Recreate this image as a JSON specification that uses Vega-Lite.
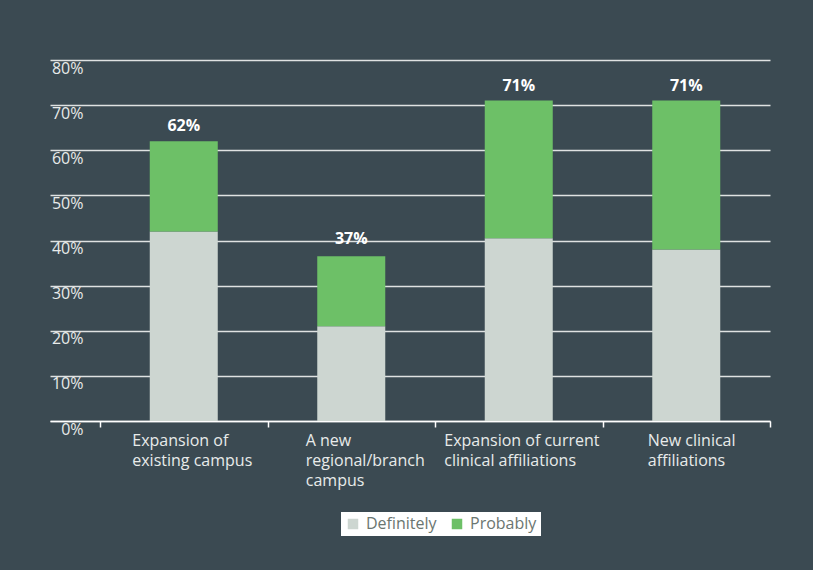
{
  "$schema": "https://vega.github.io/schema/vega-lite/v6.json",
  "width": 720,
  "height": 361,
  "autosize": {"type": "none"},
  "padding": {"left": 50, "top": 60, "right": 43, "bottom": 149},
  "background": "#3b4a52",
  "config": {
    "view": {"stroke": null},
    "font": "Open Sans"
  },
  "data": {
    "values": [
      {"category": "Expansion of existing campus", "Definitely": 42, "Probably": 20, "Total": 62, "TotalLabel": "62%"},
      {"category": "A new regional/branch campus", "Definitely": 21, "Probably": 15.5, "Total": 37, "TotalLabel": "37%"},
      {"category": "Expansion of current clinical affiliations", "Definitely": 40.5, "Probably": 30.5, "Total": 71, "TotalLabel": "71%"},
      {"category": "New clinical affiliations", "Definitely": 38, "Probably": 33, "Total": 71, "TotalLabel": "71%"}
    ]
  },
  "encoding": {
    "x": {
      "field": "category",
      "type": "nominal",
      "sort": null,
      "scale": {"paddingInner": 0, "paddingOuter": 0.1493, "align": 1},
      "axis": {
        "title": null,
        "orient": "bottom",
        "domainColor": "#ffffff",
        "domainWidth": 1.5,
        "ticks": true,
        "tickColor": "#ffffff",
        "tickWidth": 1.5,
        "tickSize": 6,
        "tickBand": "extent",
        "labelAngle": 0,
        "labelColor": "#e8ebea",
        "labelFont": "Open Sans",
        "labelFontSize": 16,
        "labelLineHeight": 20,
        "labelPadding": 5,
        "labelBaseline": "top",
        "labelAlign": "left",
        "labelOffset": {
          "condition": [
            {"test": "datum.value == 'Expansion of existing campus'", "value": -52},
            {"test": "datum.value == 'A new regional/branch campus'", "value": -46},
            {"test": "datum.value == 'Expansion of current clinical affiliations'", "value": -75}
          ],
          "value": -39
        },
        "labelExpr": "datum.value == 'Expansion of existing campus' ? ['Expansion of', 'existing campus'] : datum.value == 'A new regional/branch campus' ? ['A new', 'regional/branch', 'campus'] : datum.value == 'Expansion of current clinical affiliations' ? ['Expansion of current', 'clinical affiliations'] : datum.value == 'New clinical affiliations' ? ['New clinical', 'affiliations'] : ''"
      }
    }
  },
  "layer": [
    {
      "transform": [{"fold": ["Definitely", "Probably"], "as": ["answer", "value"]}],
      "mark": {"type": "bar", "width": {"band": 0.406}},
      "encoding": {
        "y": {
          "field": "value",
          "type": "quantitative",
          "stack": "zero",
          "scale": {"domain": [0, 80], "nice": false},
          "axis": {
            "title": null,
            "values": [0, 10, 20, 30, 40, 50, 60, 70, 80],
            "domain": false,
            "ticks": false,
            "tickSize": 0,
            "grid": true,
            "gridColor": "#dfe2e2",
            "gridWidth": 1.5,
            "labelAlign": "right",
            "labelBaseline": "top",
            "labelPadding": -33,
            "labelDy": 4,
            "labelColor": "#e8ebea",
            "labelFont": "Open Sans",
            "labelFontSize": 16,
            "labelExpr": "datum.value + '%'"
          }
        },
        "order": {"field": "answer", "sort": "ascending"},
        "color": {
          "field": "answer",
          "type": "nominal",
          "scale": {"domain": ["Definitely", "Probably"], "range": ["#cdd6d1", "#6dc067"]},
          "legend": {
            "title": null,
            "orient": "none",
            "direction": "horizontal",
            "legendX": 291,
            "legendY": 452,
            "fillColor": "#ffffff",
            "padding": 4,
            "symbolType": "square",
            "symbolSize": 110,
            "symbolStrokeWidth": 0,
            "symbolOpacity": 1,
            "labelColor": "#6b7671",
            "labelFont": "Open Sans",
            "labelFontSize": 16,
            "labelOffset": 5,
            "columnPadding": 12
          }
        }
      }
    },
    {
      "mark": {"type": "text", "color": "#ffffff", "fontWeight": "bold", "fontSize": 16, "font": "Open Sans", "dy": -10, "baseline": "alphabetic"},
      "encoding": {
        "y": {"field": "Total", "type": "quantitative"},
        "text": {"field": "TotalLabel", "type": "nominal"}
      }
    }
  ]
}
